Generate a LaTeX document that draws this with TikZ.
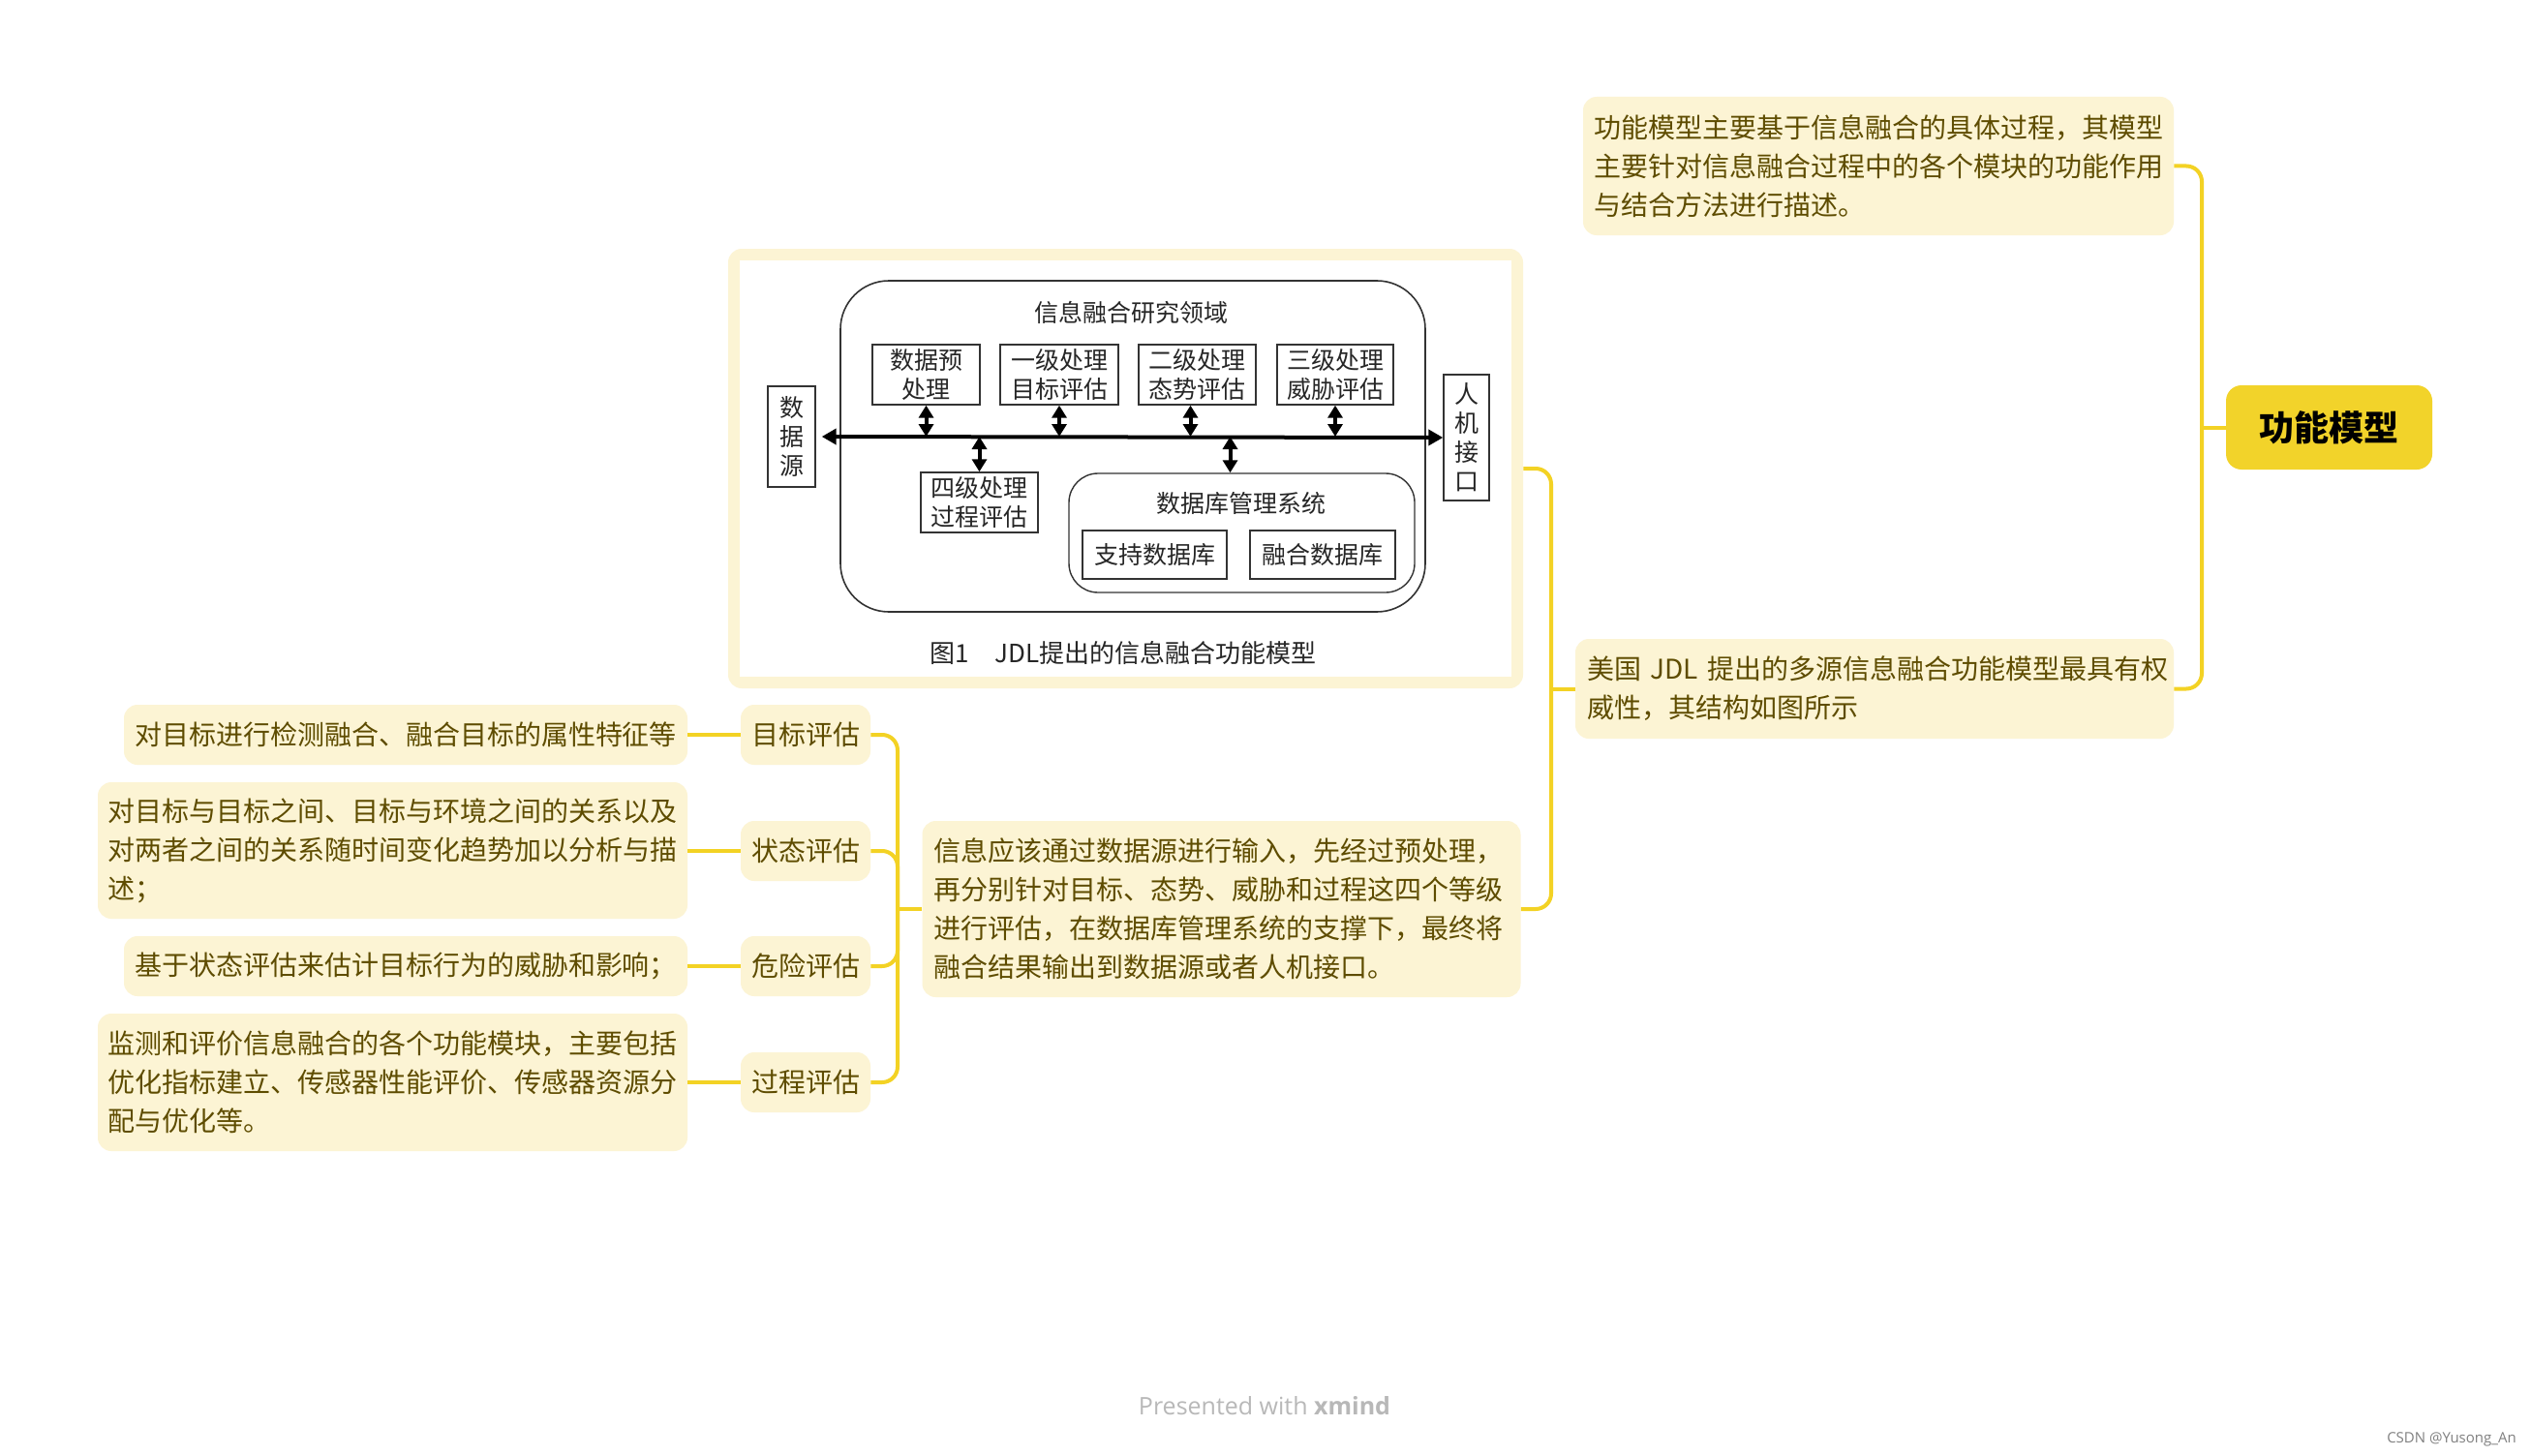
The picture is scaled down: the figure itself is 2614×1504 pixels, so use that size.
\documentclass[tikz,border=0pt]{standalone}
\usepackage{fontspec}
\setmainfont{Noto Sans CJK SC}
\newfontfamily\xmfont{Open Sans}
\usetikzlibrary{arrows.meta,calc}
\definecolor{boxfill}{HTML}{FCF4D4}
\definecolor{liney}{HTML}{F3D224}
\definecolor{rootfill}{HTML}{F2D32A}
\definecolor{txt}{HTML}{5E4C00}
\definecolor{ink}{HTML}{333333}
\newcommand\fsMM{\fontsize{14pt}{20pt}\selectfont}
\newcommand\fsIn{\fontsize{12.5pt}{15pt}\selectfont}
\begin{document}
\begin{tikzpicture}[x=0.5pt,y=-0.5pt,
  topic/.style={fill=boxfill, rounded corners=7pt, text=txt, font=\fsMM, inner ysep=0pt, align=left},
  evalbox/.style={topic, minimum width=67pt, minimum height=31pt, inner xsep=0pt, align=center},
  leafone/.style={topic, text width=280pt, inner xsep=5.5pt, minimum height=31pt},
  leafthree/.style={topic, text width=294pt, inner xsep=5.25pt},
  conn/.style={draw=liney, line width=2pt, rounded corners=8pt},
  ibox/.style={draw=ink, line width=0.7pt, fill=white, font=\fsIn, align=center, inner sep=0pt, text=black!85},
  dbl/.style={line width=2pt, draw=black, {Triangle[length=6.5pt,width=7.5pt]}-{Triangle[length=6.5pt,width=7.5pt]}},
  bus/.style={line width=2pt, draw=black, {Triangle[length=7.5pt,width=8pt]}-{Triangle[length=7.5pt,width=8pt]}}]
\useasboundingbox (0,0) rectangle (2614,1504);
\fill[white] (0,0) rectangle (2614,1504);

% ---------- mind map topics ----------
\node[fill=rootfill, rounded corners=8pt, minimum width=106.5pt, minimum height=43.5pt, inner sep=0pt,
      font=\fontsize{18pt}{20pt}\selectfont\bfseries, text=black] (root) at (2405.5,441.5) {功能模型};
\node[topic, text width=294pt, inner xsep=5.5pt, minimum height=71.5pt] (desc1) at (1940,171.5)
  {功能模型主要基于信息融合的具体过程，其模型\\主要针对信息融合过程中的各个模块的功能作用\\与结合方法进行描述。};
\node[topic, text width=297pt, inner xsep=6pt, minimum height=51.5pt] (desc2) at (1936,711.5)
  {\mbox{美国 JDL 提出的多源信息融合功能模型最具有权}\\威性，其结构如图所示};
\node[fill=boxfill, rounded corners=7pt, minimum width=410.5pt, minimum height=227pt, inner sep=0pt] (frame) at (1162.5,484) {};
\fill[white] ($(frame.north west)+(12,12)$) rectangle ($(frame.south east)+(-12,-12)$);
\node[topic, text width=297pt, inner xsep=6pt, minimum height=91pt] (proc) at (1261.5,939)
  {信息应该通过数据源进行输入，先经过预处理，\\再分别针对目标、态势、威胁和过程这四个等级\\进行评估，在数据库管理系统的支撑下，最终将\\融合结果输出到数据源或者人机接口。};

\node[evalbox] (e1) at (832,759) {目标评估};
\node[evalbox] (e2) at (832,879) {状态评估};
\node[evalbox] (e3) at (832,998) {危险评估};
\node[evalbox] (e4) at (832,1118) {过程评估};

\node[leafone] (l1) at (419,759) {对目标进行检测融合、融合目标的属性特征等};
\node[leafthree, minimum height=70.5pt] (l2) at (405.5,878.5)
  {对目标与目标之间、目标与环境之间的关系以及\\对两者之间的关系随时间变化趋势加以分析与描\\述；};
\node[leafone] (l3) at (419,998) {基于状态评估来估计目标行为的威胁和影响；};
\node[leafthree, minimum height=71pt] (l4) at (405.5,1118)
  {监测和评价信息融合的各个功能模块，主要包括\\优化指标建立、传感器性能评价、传感器资源分\\配与优化等。};

% ---------- mind map connectors ----------
\coordinate (sp1) at (2274,441.5);
\draw[conn] (desc1.east) -| (sp1) |- (desc2.east);
\draw[conn] (root.west) -- (sp1);
\coordinate (sp2) at (1602,711.5);
\draw[conn] (frame.east) -| (sp2) |- (proc.east);
\draw[conn] (desc2.west) -- (sp2);
\coordinate (sp3) at (927,939);
\draw[conn] (e1.east) -| (sp3) |- (e4.east);
\draw[conn] (e2.east) -| (sp3);
\draw[conn] (e3.east) -| (sp3);
\draw[conn] (proc.west) -- (sp3);
\draw[conn] (l1.east) -- (e1.west);
\draw[conn] (l2.east |- e2.west) -- (e2.west);
\draw[conn] (l3.east) -- (e3.west);
\draw[conn] (l4.east) -- (e4.west);

% ---------- embedded JDL diagram ----------
\node[draw=ink, line width=0.8pt, rounded corners=25pt, minimum width=302pt, minimum height=171pt, inner sep=0pt] (region) at (1170,461) {};
\node[font=\fsIn, text=black!85] (regtitle) at (1168,323) {信息融合研究领域};
\node[ibox, minimum width=55.5pt, minimum height=31pt] (pre) at (956.5,387) {数据预\\处理};
\node[ibox, minimum width=61pt, minimum height=31pt] (lv1) at (1094,387) {一级处理\\目标评估};
\node[ibox, minimum width=60.5pt, minimum height=31pt] (lv2) at (1236.5,387) {二级处理\\态势评估};
\node[ibox, minimum width=60pt, minimum height=31pt] (lv3) at (1379,387) {三级处理\\威胁评估};
\node[ibox, minimum width=60.5pt, minimum height=31pt] (lv4) at (1011.5,519) {四级处理\\过程评估};
\node[ibox, minimum width=24.5pt, minimum height=52pt] (src) at (817.5,451) {数\\据\\源};
\node[ibox, minimum width=23.5pt, minimum height=65pt] (hmi) at (1514.5,452) {人\\机\\接\\口};
\node[draw=ink, line width=0.7pt, rounded corners=15pt, minimum width=178.5pt, minimum height=61.5pt, inner sep=0pt] (dbreg) at (1282.5,550.5) {};
\node[font=\fsIn, text=black!85] (dbtitle) at (1282,520) {数据库管理系统};
\node[ibox, minimum width=74.5pt, minimum height=25pt] (sup) at (1192.5,573) {支持数据库};
\node[ibox, minimum width=75pt, minimum height=25pt] (fus) at (1366,573) {融合数据库};
\node[font=\fontsize{13pt}{15pt}\selectfont, text=black!85] (cap) at (1160,675) {图1\quad JDL提出的信息融合功能模型};

\draw[bus, shorten <=3pt] (src.east) -- (hmi.west);
\draw[dbl] (pre.south) -- (pre.south |- src.east);
\draw[dbl] (lv1.south) -- (lv1.south |- src.east);
\coordinate (lv2b) at ($(lv2.south)+(-7,0)$);
\draw[dbl] (lv2b) -- (lv2b |- src.east);
\draw[dbl] (lv3.south) -- (lv3.south |- src.east);
\draw[dbl] (lv4.north) -- (lv4.north |- src.east);
\coordinate (dbtop) at ($(dbreg.north)+(-12,0)$);
\draw[dbl] (dbtop) -- (dbtop |- src.east);

% ---------- footer ----------
\node[font=\xmfont\fontsize{12.5pt}{14pt}\selectfont, text=black!28] (xm) at (1306,1452) {Presented with \textbf{xmind}};
\node[font=\xmfont\fontsize{7.5pt}{9pt}\selectfont, text=black!50] (csdn) at (2532,1487) {CSDN @Yusong\_An};
\end{tikzpicture}
\end{document}
